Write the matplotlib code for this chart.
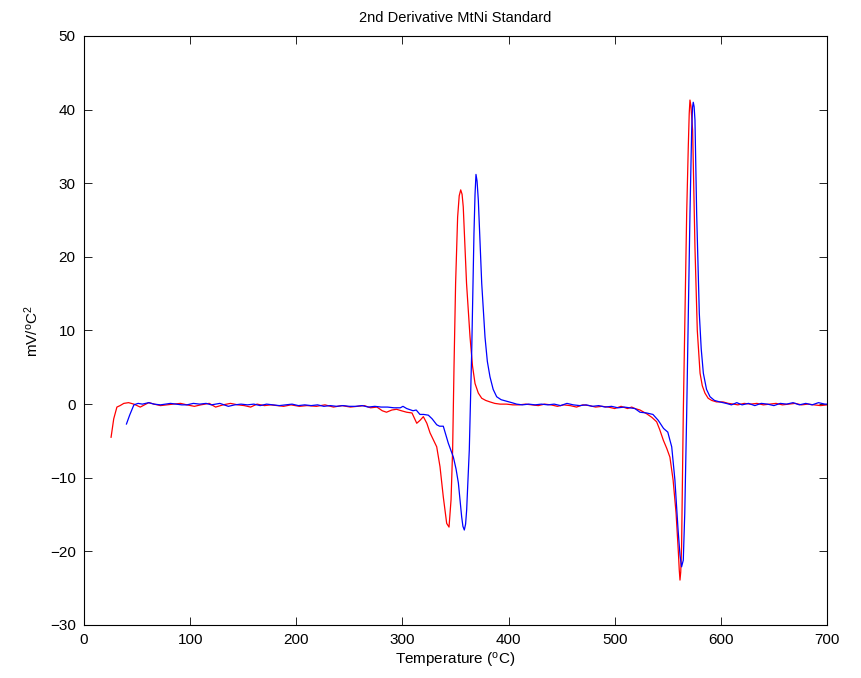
import matplotlib
matplotlib.use("Agg")
import matplotlib.pyplot as plt

# red run (temperature in degC, 2nd derivative in mV/degC^2)
RED_T = [25.5, 28, 31, 34, 37.5, 42, 47, 53, 57, 61,
         66, 72, 78, 84, 91, 97, 104, 110, 118, 124,
         131, 138, 145, 151, 157, 163, 170, 176, 182, 188,
         195, 203, 210, 219, 227, 235, 243, 251, 258, 264,
         270, 276, 281, 285, 290, 294.5, 299, 304, 309, 313.5,
         316.6, 319.7, 323, 326, 329, 332.3, 335.4, 338.5, 341.7, 343.9,
         345.8, 347.3, 348.6, 350.1, 352, 353.5, 354.9, 356.2, 357.3, 360.4,
         363.7, 366, 368.4, 371.5, 374.7, 378.5, 382.5, 387, 392, 398,
         404, 410, 416, 422, 428, 434, 440, 446, 452, 458,
         464, 470, 476, 482, 488, 494, 500, 506, 512, 516,
         519, 523.8, 530, 535, 539.5, 542.5, 545.8, 549, 552, 555,
         557.8, 560, 560.8, 561.5, 562.2, 563, 564.6, 566.2, 567.8, 569.3,
         570.2, 570.9, 571.8, 573.4, 575.6, 577.8, 580.4, 582.5, 585, 588,
         591.4, 596, 602, 607, 612, 616, 622, 628, 634, 640,
         646, 652, 658, 664, 670, 676, 682, 688, 694, 700]
RED_V = [-4.5, -2.0, -0.4, -0.2, 0.1, 0.2, 0.0, -0.4, -0.1, 0.2,
         0.0, -0.2, -0.1, 0.0, 0.1, -0.1, -0.3, -0.1, 0.1, -0.4,
         -0.1, 0.1, -0.1, -0.2, -0.4, 0.0, -0.2, -0.1, -0.2, -0.3,
         -0.1, -0.3, -0.2, -0.3, -0.1, -0.4, -0.2, -0.4, -0.3, -0.2,
         -0.5, -0.4, -0.9, -1.1, -0.8, -0.7, -0.9, -1.1, -1.2, -2.6,
         -2.2, -1.7, -2.6, -3.9, -4.8, -5.8, -8.5, -12.6, -16.2, -16.7,
         -13.0, -6.2, 5.1, 16.4, 25.4, 28.3, 29.1, 28.5, 26.8, 16.4,
         9.1, 5.2, 2.8, 1.5, 0.8, 0.5, 0.3, 0.1, 0.0, 0.0,
         -0.1, -0.1, 0.0, -0.1, -0.2, 0.0, -0.1, -0.3, -0.1, -0.2,
         -0.4, -0.1, -0.2, -0.4, -0.3, -0.4, -0.6, -0.3, -0.6, -0.4,
         -0.6, -0.8, -1.3, -1.8, -2.4, -3.5, -4.9, -6.0, -7.2, -10.3,
         -14.8, -20.2, -22.5, -23.9, -22.8, -19.4, -1.3, 12.3, 25.9, 34.9,
         39.5, 41.3, 40.5, 37.2, 21.3, 10.0, 4.2, 2.5, 1.5, 0.8,
         0.5, 0.3, 0.3, 0.1, 0.0, -0.1, 0.1, 0.0, 0.1, -0.1,
         0.0, 0.1, -0.1, 0.0, 0.1, -0.1, 0.0, -0.1, -0.2, -0.1]

# blue run
BLUE_T = [40, 43, 47, 51, 55, 61, 66, 72, 77, 81.5,
          87, 92, 97, 103, 109, 115, 120, 128, 136, 142,
          148, 154, 160, 166, 172, 178, 184, 190, 196, 202,
          208, 214, 220, 226, 232, 238, 244, 250, 256, 262,
          268, 274, 280, 286, 292, 298, 300.5, 304, 310, 313,
          316.5, 320, 324.4, 328, 332.3, 335, 338.5, 341, 343.2, 346,
          348, 350.5, 352.7, 354.3, 355.8, 357, 358.3, 359.5, 360.5, 363,
          365.3, 367.4, 368.4, 369.3, 370.3, 371.5, 374.7, 377.8, 380, 382.5,
          385.5, 388.8, 393, 398, 403, 407.6, 413, 419, 425, 431,
          437, 443, 449, 455, 461, 467, 473, 479, 485, 491,
          497, 503, 509, 514, 519, 523.8, 530, 536, 541, 546,
          550, 553.7, 556.7, 559.7, 561.5, 563, 564.6, 566, 567.8, 569.3,
          570.9, 572.5, 573.3, 574, 574.8, 575.6, 577.2, 579.7, 581.5, 583.5,
          586.5, 589.8, 594, 599, 605, 610, 615, 620, 626, 632,
          638, 644, 650, 656, 662, 668, 674, 680, 686, 692,
          698, 700]
BLUE_V = [-2.7, -1.5, -0.1, 0.1, 0.0, 0.2, 0.0, -0.1, 0.0, 0.1,
          0.0, -0.1, -0.1, 0.1, 0.0, 0.1, -0.1, 0.1, -0.3, -0.1,
          0.0, -0.1, 0.0, -0.2, 0.0, -0.1, -0.2, -0.1, 0.0, -0.2,
          -0.1, -0.2, -0.1, -0.3, -0.2, -0.3, -0.2, -0.3, -0.3, -0.2,
          -0.4, -0.3, -0.4, -0.4, -0.5, -0.5, -0.3, -0.6, -0.9, -0.8,
          -1.4, -1.4, -1.5, -2.0, -2.8, -3.0, -3.0, -4.2, -5.3, -6.4,
          -7.2, -8.8, -10.7, -13.0, -15.3, -16.6, -17.1, -16.3, -14.4, -6.2,
          7.4, 23.2, 28.5, 31.2, 30.3, 27.7, 16.4, 9.1, 5.8, 3.7,
          2.0, 1.0, 0.6, 0.4, 0.2, 0.0, -0.1, 0.0, -0.1, 0.0,
          -0.1, 0.0, -0.2, 0.1, -0.1, -0.2, -0.1, -0.3, -0.2, -0.4,
          -0.3, -0.5, -0.4, -0.5, -0.6, -1.1, -1.2, -1.4, -2.2, -3.3,
          -3.8, -5.8, -10.3, -17.1, -20.5, -22.1, -21.2, -14.8, -1.3, 12.3,
          25.9, 37.2, 40.3, 41.0, 40.4, 38.6, 25.9, 12.3, 7.5, 4.2,
          2.0, 1.0, 0.5, 0.3, 0.1, -0.1, 0.2, -0.1, 0.1, -0.2,
          0.1, 0.0, -0.2, 0.1, 0.0, 0.2, -0.1, 0.1, -0.1, 0.2,
          0.0, 0.0]

X_TICKS = [0, 100, 200, 300, 400, 500, 600, 700]
Y_TICKS = [-30, -20, -10, 0, 10, 20, 30, 40, 50]

plt.rcParams["font.family"] = ["Liberation Sans", "DejaVu Sans"]
plt.rcParams["mathtext.fontset"] = "custom"
plt.rcParams["mathtext.rm"] = "Liberation Sans"
plt.rcParams["mathtext.it"] = "Liberation Sans"

fig = plt.figure(figsize=(8.61, 6.78), dpi=100)
ax = fig.add_axes([84 / 861, 1 - 625 / 678, (827 - 84) / 861, (625 - 36) / 678])

ax.plot(RED_T, RED_V, color="#FF0000", linewidth=0.9)
ax.plot(BLUE_T, BLUE_V, color="#0000FF", linewidth=0.9)

ax.set_xlim(0, 700)
ax.set_ylim(-30, 50)
ax.set_xticks(X_TICKS)
ax.set_yticks(Y_TICKS)
ax.tick_params(direction="in", length=6, width=0.6, top=True, right=True,
               labelsize=11, pad=6)
for spine in ax.spines.values():
    spine.set_linewidth(0.8)

ax.set_title("2nd Derivative MtNi Standard", fontsize=10.5, pad=10)
ax.set_xlabel("Temperature ($^{\\rm o}$C)", fontsize=11, labelpad=3)
ax.set_ylabel("mV/$^{\\rm o}$C$^{2}$", fontsize=11, labelpad=6)

fig.savefig("out.png", dpi=100, facecolor="white")
